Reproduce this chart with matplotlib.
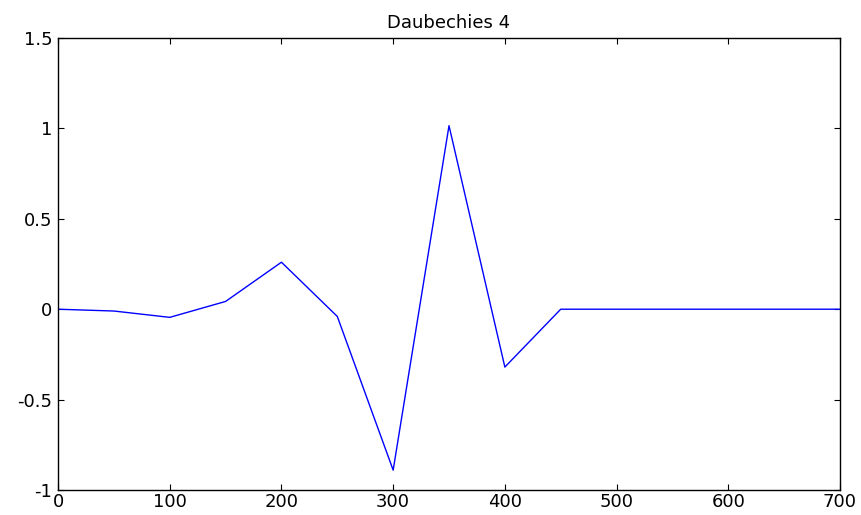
import matplotlib
matplotlib.use("Agg")
import matplotlib.pyplot as plt

x = [0, 50, 100, 150, 200, 250, 300, 350, 400, 450, 500, 550, 600, 650, 700]
y = [0.0, -0.01, -0.045, 0.043, 0.26, -0.04, -0.89, 1.015, -0.32, 0.0,
     0.0, 0.0, 0.0, 0.0, 0.0]

xticks = [0, 100, 200, 300, 400, 500, 600, 700]
yticks = [-1, -0.5, 0, 0.5, 1, 1.5]
ylabels = ['-1', '-0.5', '0', '0.5', '1', '1.5']

# the original font is wide, DejaVu gets closest
plt.rcParams['font.family'] = ['DejaVu Sans']

fig = plt.figure(figsize=(8.61, 5.15), dpi=100)
ax = fig.add_axes([0.0674, 0.0485, 0.9082, 0.8777])
ax.plot(x, y, color='#0000ff', linewidth=1.0)
ax.set_xlim(0, 700)
ax.set_ylim(-1, 1.5)
ax.set_xticks(xticks)
ax.set_yticks(yticks)
ax.set_yticklabels(ylabels)
ax.tick_params(direction='in', length=4, width=0.8, top=True, right=True,
               labelsize=13)
ax.tick_params(axis='x', pad=2.5)
ax.tick_params(axis='y', pad=4)
for s in ax.spines.values():
    s.set_linewidth(1.0)
ax.set_title('Daubechies 4', fontsize=13, pad=7)

fig.savefig('out.png', dpi=100)
